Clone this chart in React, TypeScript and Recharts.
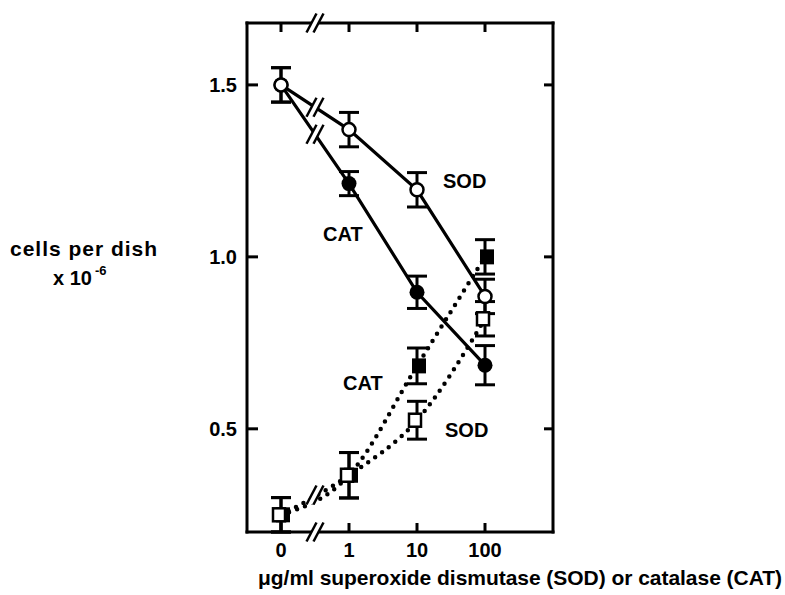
import React from 'react';
import { LineChart, Line, XAxis, YAxis, ErrorBar, ReferenceDot } from 'recharts';

const dosePositions = [0, 1, 2, 3];
const doseLabels = ['0', '1', '10', '100'];
const sodSolid = [1.5, 1.37, 1.195, 0.885];
const sodSolidErr = [0.05, 0.05, 0.05, 0.05];
const catSolid = [1.5, 1.213, 0.897, 0.685];
const catSolidErr = [0.05, 0.035, 0.047, 0.057];
const catDotted = [0.25, 0.365, 0.683, 1.0];
const catDottedErr = [0.05, 0.066, 0.052, 0.05];
const sodDotted = [0.25, 0.365, 0.525, 0.82];
const sodDottedErr = [0.05, 0.066, 0.055, 0.05];
const yTicks = [0.5, 1.0, 1.5];
const yDomain = [0.2, 1.68];
const xDomain = [-0.5, 4];
const breakX = 0.5;

const data = dosePositions.map((x, i) => ({
  x,
  sodS: sodSolid[i],
  sodSE: sodSolidErr[i],
  catS: catSolid[i],
  catSE: catSolidErr[i],
  catD: catDotted[i],
  catDE: catDottedErr[i],
  sodD: sodDotted[i],
  sodDE: sodDottedErr[i],
}));

const FONT = '"Liberation Sans", Arial, Helvetica, sans-serif';
const TICK_LEN = 9;

const BottomTick = (props: any) => {
  const { x, y, payload } = props;
  return (
    <g>
      <line x1={x} y1={y} x2={x} y2={y - TICK_LEN} stroke="#000" strokeWidth={3} />
      <text x={x} y={y + 25} textAnchor="middle" fontFamily={FONT} fontWeight="bold" fontSize={20} fill="#000">
        {doseLabels[dosePositions.indexOf(payload.value)]}
      </text>
    </g>
  );
};
const TopTick = (props: any) => {
  const { x, y } = props;
  return <line x1={x} y1={y} x2={x} y2={y + TICK_LEN} stroke="#000" strokeWidth={3} />;
};
const LeftTick = (props: any) => {
  const { x, y, payload } = props;
  return (
    <g>
      <line x1={x} y1={y} x2={x + TICK_LEN + 2} y2={y} stroke="#000" strokeWidth={3} />
      <text x={x - 10} y={y + 7} textAnchor="end" fontFamily={FONT} fontWeight="bold" fontSize={20} fill="#000">
        {payload.value.toFixed(1)}
      </text>
    </g>
  );
};
const RightTick = (props: any) => {
  const { x, y } = props;
  return <line x1={x} y1={y} x2={x - TICK_LEN} y2={y} stroke="#000" strokeWidth={3} />;
};

const OpenCircle = (props: any) => {
  const { cx, cy } = props;
  return <circle cx={cx} cy={cy} r={6.5} fill="#fff" stroke="#000" strokeWidth={2.5} />;
};
const FilledCircle = (props: any) => {
  const { cx, cy } = props;
  return <circle cx={cx} cy={cy} r={7.5} fill="#000" />;
};
const OpenSquare = (props: any) => {
  const { cx, cy } = props;
  return <rect x={cx - 8} y={cy - 6.5} width={12} height={13} fill="#fff" stroke="#000" strokeWidth={2.5} />;
};
const FilledSquare = (props: any) => {
  const { cx, cy } = props;
  return <rect x={cx - 5} y={cy - 7.5} width={14} height={15} fill="#000" />;
};

const BreakMark = (props: any) => {
  const { cx, cy } = props;
  const dx = 5;
  const dy = 9.5;
  const g = 3.5;
  return (
    <g>
      <polygon
        points={`${cx - g - dx},${cy + dy} ${cx - g + dx},${cy - dy} ${cx + g + dx},${cy - dy} ${cx + g - dx},${cy + dy}`}
        fill="#fff"
      />
      <line x1={cx - g - dx} y1={cy + dy} x2={cx - g + dx} y2={cy - dy} stroke="#000" strokeWidth={2.5} />
      <line x1={cx + g - dx} y1={cy + dy} x2={cx + g + dx} y2={cy - dy} stroke="#000" strokeWidth={2.5} />
    </g>
  );
};

const axisLineStyle = { stroke: '#000', strokeWidth: 3, strokeLinecap: 'square' as const };

export default function App() {
  return (
    <div style={{ position: 'absolute', left: 0, top: 0, width: 785, height: 595, background: '#fff' }}>
      <LineChart
        width={785}
        height={595}
        data={data}
        margin={{ top: 13, right: 222, bottom: 23, left: 187 }}
      >
        <XAxis
          xAxisId="b"
          dataKey="x"
          type="number"
          domain={xDomain}
          allowDataOverflow
          ticks={dosePositions}
          height={40}
          tickSize={0}
          tickMargin={0}
          tickLine={false}
          axisLine={axisLineStyle}
          tick={<BottomTick />}
          interval={0}
        />
        <XAxis
          xAxisId="t"
          orientation="top"
          dataKey="x"
          type="number"
          domain={xDomain}
          allowDataOverflow
          ticks={dosePositions}
          height={10}
          tickSize={0}
          tickMargin={0}
          tickLine={false}
          axisLine={axisLineStyle}
          tick={<TopTick />}
          interval={0}
        />
        <YAxis
          yAxisId="l"
          type="number"
          domain={yDomain}
          allowDataOverflow
          ticks={yTicks}
          width={60}
          tickSize={0}
          tickMargin={0}
          tickLine={false}
          axisLine={axisLineStyle}
          tick={<LeftTick />}
          interval={0}
        />
        <YAxis
          yAxisId="r"
          orientation="right"
          type="number"
          domain={yDomain}
          allowDataOverflow
          ticks={yTicks}
          width={10}
          tickSize={0}
          tickMargin={0}
          tickLine={false}
          axisLine={axisLineStyle}
          tick={<RightTick />}
          interval={0}
        />

        <Line
          xAxisId="b"
          yAxisId="l"
          dataKey="catD"
          type="monotone"
          stroke="#000"
          strokeWidth={4.5}
          strokeDasharray="0 8.5"
          strokeLinecap="round"
          dot={<FilledSquare />}
          activeDot={false}
          isAnimationActive={false}
        >
          <ErrorBar dataKey="catDE" width={10} stroke="#000" strokeWidth={3} direction="y" />
        </Line>
        <Line
          xAxisId="b"
          yAxisId="l"
          dataKey="sodD"
          type="monotone"
          stroke="#000"
          strokeWidth={4.5}
          strokeDasharray="0 8.5"
          strokeLinecap="round"
          dot={<OpenSquare />}
          activeDot={false}
          isAnimationActive={false}
        >
          <ErrorBar dataKey="sodDE" width={10} stroke="#000" strokeWidth={3} direction="y" />
        </Line>
        <Line
          xAxisId="b"
          yAxisId="l"
          dataKey="catS"
          type="linear"
          stroke="#000"
          strokeWidth={3.2}
          dot={<FilledCircle />}
          activeDot={false}
          isAnimationActive={false}
        >
          <ErrorBar dataKey="catSE" width={10} stroke="#000" strokeWidth={3} direction="y" />
        </Line>
        <Line
          xAxisId="b"
          yAxisId="l"
          dataKey="sodS"
          type="linear"
          stroke="#000"
          strokeWidth={3.2}
          dot={<OpenCircle />}
          activeDot={false}
          isAnimationActive={false}
        >
          <ErrorBar dataKey="sodSE" width={10} stroke="#000" strokeWidth={3} direction="y" />
        </Line>

        <ReferenceDot xAxisId="b" yAxisId="l" x={breakX} y={(sodSolid[0] + sodSolid[1]) / 2} shape={<BreakMark />} ifOverflow="visible" />
        <ReferenceDot xAxisId="b" yAxisId="l" x={breakX} y={(catSolid[0] + catSolid[1]) / 2} shape={<BreakMark />} ifOverflow="visible" />
        <ReferenceDot xAxisId="b" yAxisId="l" x={breakX} y={(catDotted[0] + catDotted[1]) / 2} shape={<BreakMark />} ifOverflow="visible" />
        <ReferenceDot xAxisId="b" yAxisId="l" x={breakX} y={yDomain[0]} shape={<BreakMark />} ifOverflow="visible" />
        <ReferenceDot xAxisId="b" yAxisId="l" x={breakX} y={yDomain[1]} shape={<BreakMark />} ifOverflow="visible" />
      </LineChart>

      <svg
        width={785}
        height={595}
        style={{ position: 'absolute', left: 0, top: 0, pointerEvents: 'none' }}
        fontFamily={FONT}
        fontWeight="bold"
        fill="#000"
      >
        <text x={10} y={256} fontSize={21} textLength={147} lengthAdjust="spacing">cells per dish</text>
        <text x={53} y={285} fontSize={20}>
          <tspan>x 10</tspan>
          <tspan dx={3} dy={-10} fontSize={13}>-6</tspan>
        </text>
        <text x={258} y={585} fontSize={21} textLength={524} lengthAdjust="spacing">
          μg/ml superoxide dismutase (SOD) or catalase (CAT)
        </text>
        <text x={443} y={188} fontSize={20}>SOD</text>
        <text x={323} y={241} fontSize={20}>CAT</text>
        <text x={343} y={390} fontSize={20}>CAT</text>
        <text x={445} y={437} fontSize={20}>SOD</text>
      </svg>
    </div>
  );
}
